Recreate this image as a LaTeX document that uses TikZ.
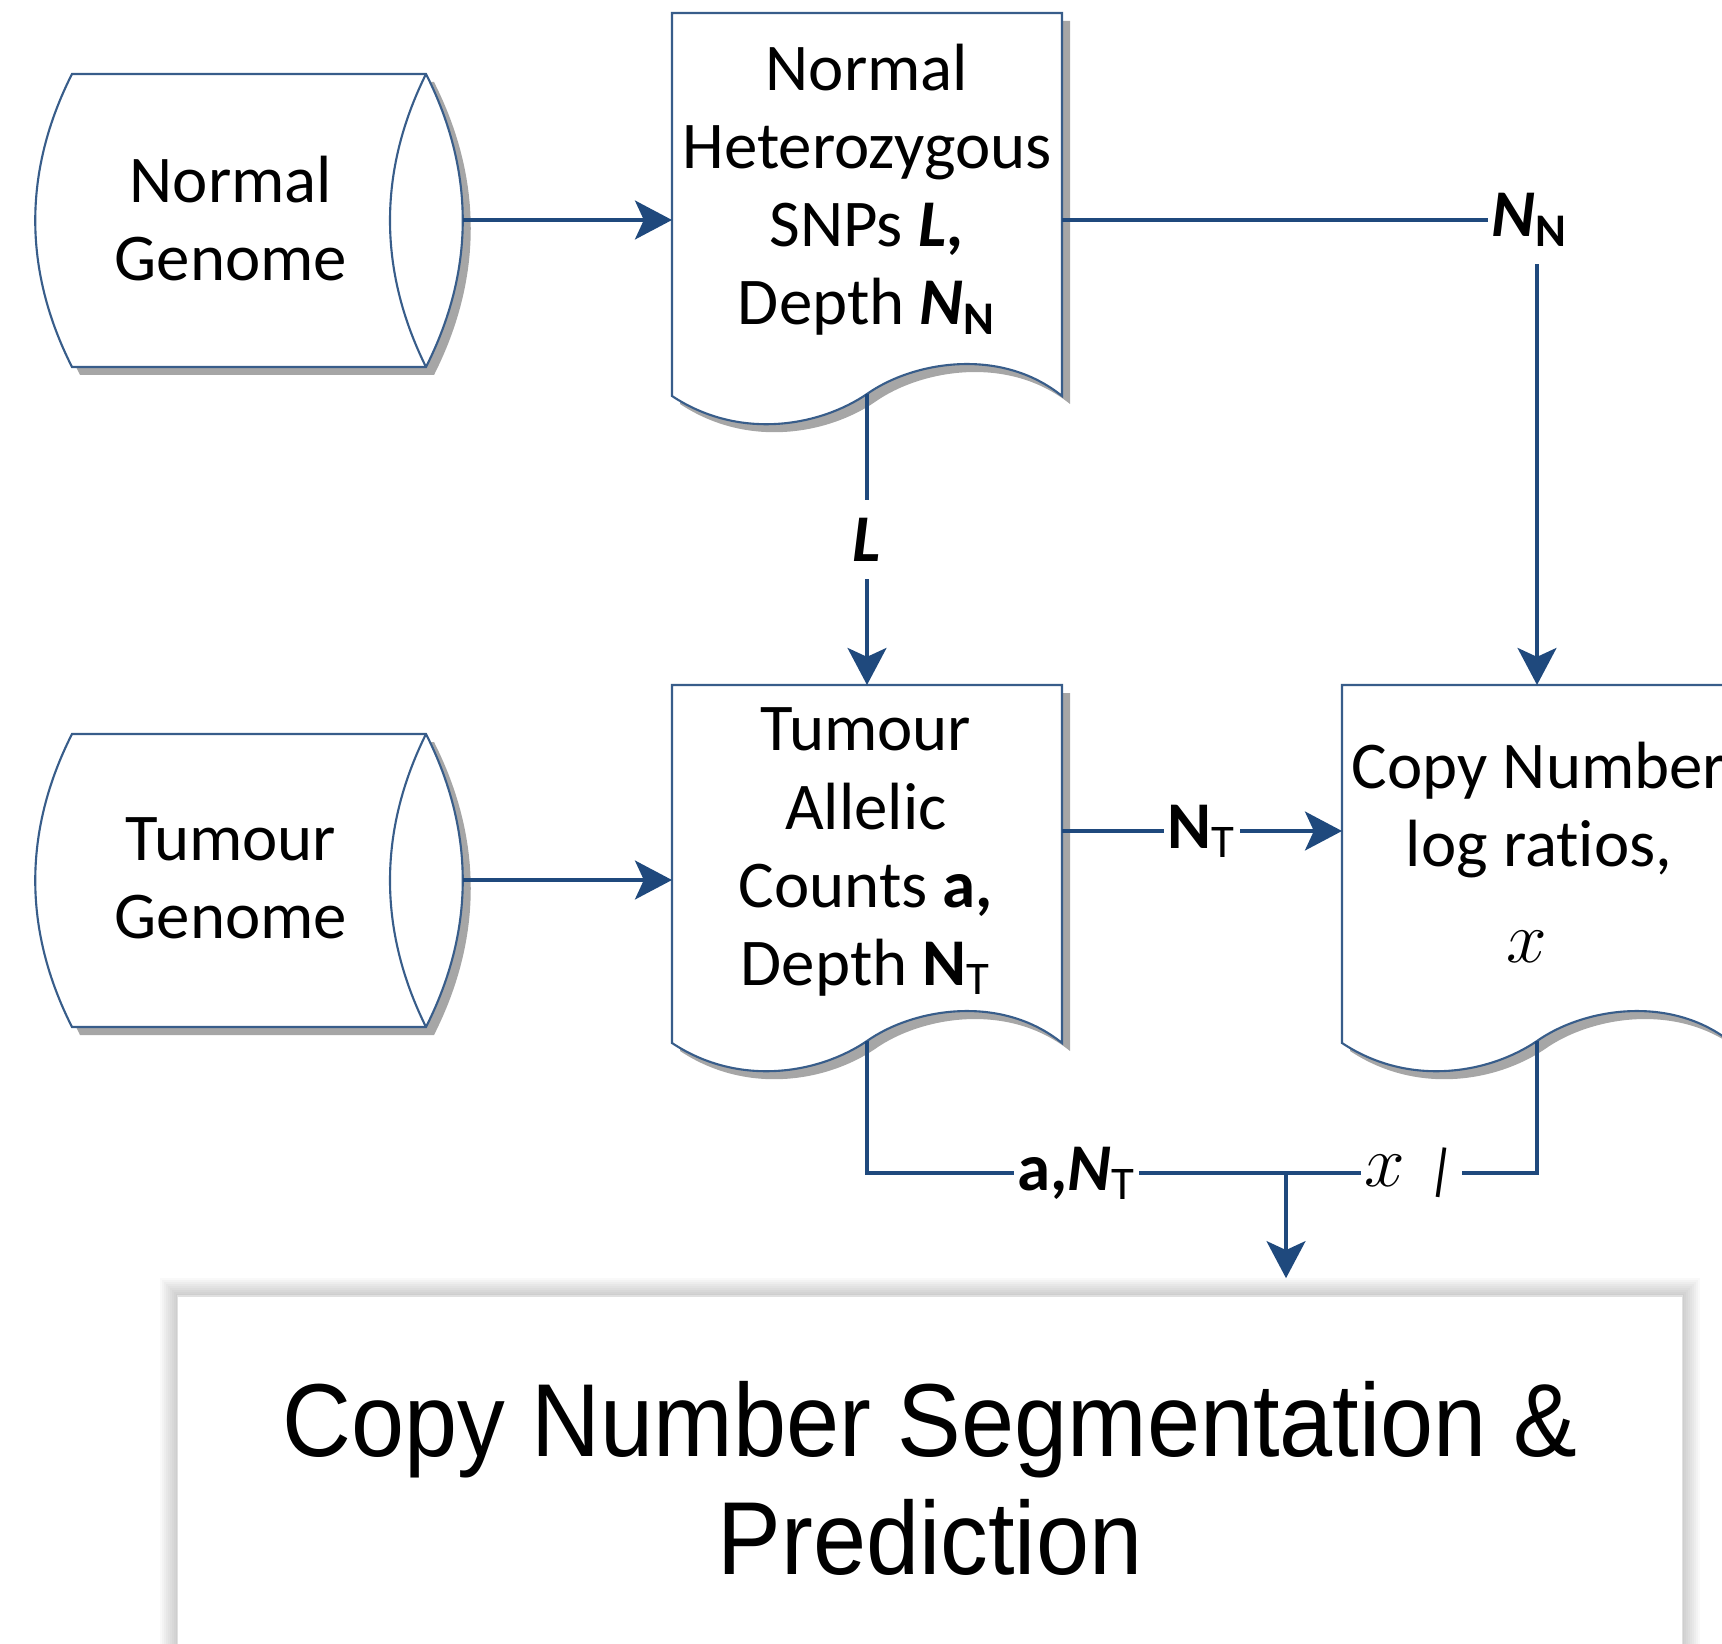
\documentclass[tikz,border=0pt]{standalone}
\usepackage{fontspec}
\setmainfont{Carlito}[Ligatures=NoCommon]
\newfontfamily\segfont[FakeStretch=0.92]{Liberation Sans}
\usetikzlibrary{arrows.meta}
\definecolor{lineblue}{RGB}{31, 73, 125}
\definecolor{boxblue}{RGB}{56, 93, 138}
\definecolor{shadowgray}{RGB}{166, 166, 166}

\begin{document}
\begin{tikzpicture}[x=0.01cm, y=-0.01cm,
  conn/.style={draw=lineblue, line width=1.3pt},
  arrow/.style={conn, -{Stealth[length=10.5pt, width=11pt, inset=2.5pt]}},
  edgelabel/.style={fill=white, inner xsep=1pt, inner ysep=5pt, font=\fontsize{19}{22}\selectfont},
  boxtext/.style={align=center, font=\fontsize{19}{22.2}\selectfont},
  segbox/.style={fill=white, draw=black!12, minimum width=15.04cm, minimum height=3.64cm,
    align=center, font=\segfont\fontsize{29.5}{33.6}\selectfont},
  pics/docshape/.style 2 args={code={
    \fill[shadowgray] (8,8) -- (398,8) -- (398,#1+8)
      .. controls (336,#1-42) and (248,#1-26) .. (203,#1+6)
      .. controls (156,#1+38) and (76,#1+53) .. (8,#1+8) -- cycle;
    \filldraw[fill=white, draw=boxblue, line width=0.6pt] (0,0) -- (390,0) -- (390,#1)
      .. controls (328,#1-50) and (240,#1-34) .. (195,#1-2)
      .. controls (148,#1+30) and (68,#1+45) .. (0,#1) -- cycle;
    \coordinate (-nw) at (0,0);
    \coordinate (-top) at (195,0);
    \coordinate (-bot) at (195,#1-2);
    \coordinate (-e) at (390,#2);
  }},
  pics/diskshape/.style={code={
    \fill[shadowgray] (8,8) -- (362,8) .. controls (411,105) and (411,204) .. (362,301)
      -- (8,301) .. controls (-41,204) and (-41,105) .. (8,8) -- cycle;
    \filldraw[fill=white, draw=boxblue, line width=0.6pt] (0,0) -- (354,0)
      .. controls (403,97) and (403,196) .. (354,293)
      -- (0,293) .. controls (-49,196) and (-49,97) .. (0,0) -- cycle;
    \draw[boxblue, line width=0.6pt] (354,0) .. controls (306,97) and (306,196) .. (354,293);
    \coordinate (-e) at (391,146);
  }}]
  \useasboundingbox (0,0) rectangle (1722,1643);

  % genomes
  \pic (ng) at (72,74) {diskshape};
  \pic (tg) at (72,734) {diskshape};
  \node[boxtext] (ngt) at (231,219) {Normal\\Genome};
  \node[boxtext] (tgt) at (231,878) {Tumour\\Genome};

  % documents
  \pic (d1) at (672,13) {docshape={383}{207}};
  \pic (d2) at (672,685) {docshape={358}{146}};
  \pic (cn) at (1342,685) {docshape={358}{146}};
  \node[boxtext] (d1t) at (867,190) {Normal\\Heterozygous\\SNPs \textbf{\textit{L,}}\\Depth \textbf{\textit{N}\textsubscript{N}}};
  \node[boxtext] (d2t) at (866,852) {Tumour\\Allelic\\Counts \textbf{a,}\\Depth \textbf{N}\textsubscript{T}};
  \node[boxtext] (cnt) at (1539,852) {Copy Number\\log ratios,\\[0.18cm]\hspace*{-0.25cm}{\fontsize{22}{22}\selectfont$x$}};

  % segmentation box with soft glow
  \foreach \g in {1,...,9}
    \fill[black, opacity=0.025] (178-2*\g,1296-2*\g) rectangle (1682+2*\g,1700);
  \node[segbox] (seg) at (930,1478) {Copy Number Segmentation \&\\Prediction};

  % connectors
  \foreach \from/\to in {ng/d1, tg/d2}
    \draw[arrow] (\from-e) -- (\from-e -| \to-nw);
  \draw[arrow] (d1-e) -| (cn-top) node[pos=0.5, edgelabel, xshift=-2pt] {\textbf{\textit{N}\textsubscript{N}}};
  \draw[arrow] (d1-bot) -- (d2-top) node[midway, edgelabel] {\textbf{\textit{L}}};
  \draw[arrow] (d2-e) -- (d2-e -| cn-nw) node[midway, edgelabel] {\textbf{N}\textsubscript{T}};
  \coordinate (jn) at (1286,1173);
  \draw[conn] (d2-bot) |- (jn) node[pos=0.75, edgelabel] {\textbf{a,\textit{N}}\textsubscript{T}};
  \draw[conn] (cn-bot) |- (jn) node[pos=0.75, edgelabel] {{\fontsize{22}{22}\selectfont$x$}\hspace{0.3em}\rotatebox{-8}{\fontsize{16}{16}\selectfont |}};
  \draw[arrow, shorten >=0.17cm] (jn) -- (jn |- seg.north);
\end{tikzpicture}
\end{document}
